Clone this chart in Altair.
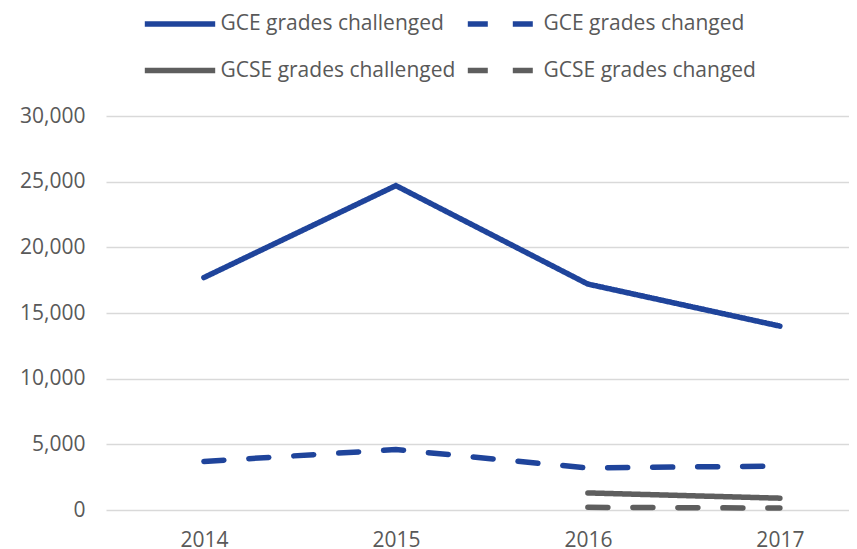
import altair as alt
import pandas as pd

years = [2014, 2015, 2016, 2017]
series_names = ["GCE grades challenged", "GCE grades changed",
                "GCSE grades challenged", "GCSE grades changed"]
gce_challenged = [17700, 24700, 17200, 14000]
gce_changed = [3700, 4600, 3200, 3350]
gcse_challenged = [None, None, 1300, 900]
gcse_changed = [None, None, 200, 150]

rows = []
for name, vals in zip(series_names, [gce_challenged, gce_changed, gcse_challenged, gcse_changed]):
    for y, v in zip(years, vals):
        if v is not None:
            rows.append({"year": y, "value": v, "series": name})
df = pd.DataFrame(rows)

blue = "#1F449B"
grey = "#5E5E5E"
txt = "#595959"
font = "Open Sans"


def make_legend():
    return alt.Legend(title=None, orient="none", legendX=55, legendY=-111,
                      columns=2, direction="horizontal",
                      symbolType="M-2.2,0H2.2", symbolSize=1024,
                      symbolStrokeWidth=5.5, labelOffset=21.5,
                      columnPadding=0, rowPadding=16.5,
                      labelFont=font, labelFontSize=21, labelColor=txt,
                      labelLimit=400, padding=0)


chart = alt.Chart(df).mark_line(strokeWidth=5.5, strokeCap="round", strokeJoin="miter").encode(
    x=alt.X("year:Q",
            scale=alt.Scale(domain=[2013.49, 2017.36], nice=False, zero=False),
            axis=alt.Axis(values=years, format="d", title=None, grid=False, ticks=False,
                          domain=False, labelFont=font, labelFontSize=21, labelColor=txt,
                          labelPadding=19)),
    y=alt.Y("value:Q",
            scale=alt.Scale(domain=[0, 30000], nice=False),
            axis=alt.Axis(values=[0, 5000, 10000, 15000, 20000, 25000, 30000], format=",d",
                          title=None, ticks=False, domain=False, labelFont=font,
                          labelFontSize=21, labelColor=txt, labelPadding=21,
                          gridColor="#D9D9D9", gridWidth=1.3)),
    color=alt.Color("series:N",
                    scale=alt.Scale(domain=series_names, range=[blue, blue, grey, grey]),
                    legend=make_legend()),
    strokeDash=alt.StrokeDash("series:N",
                              scale=alt.Scale(domain=series_names,
                                              range=[[1, 0], [20, 25], [1, 0], [20, 25]]),
                              legend=make_legend()),
).properties(
    width=743, height=394,
    background="white",
    autosize=alt.AutoSizeParams(type="none"),
    padding={"left": 98, "top": 108, "right": 0, "bottom": 40},
).configure_view(strokeWidth=0, stroke=None).configure_axisX(grid=False)

chart.save("out.html", embed_options={"renderer": "svg", "actions": False})
